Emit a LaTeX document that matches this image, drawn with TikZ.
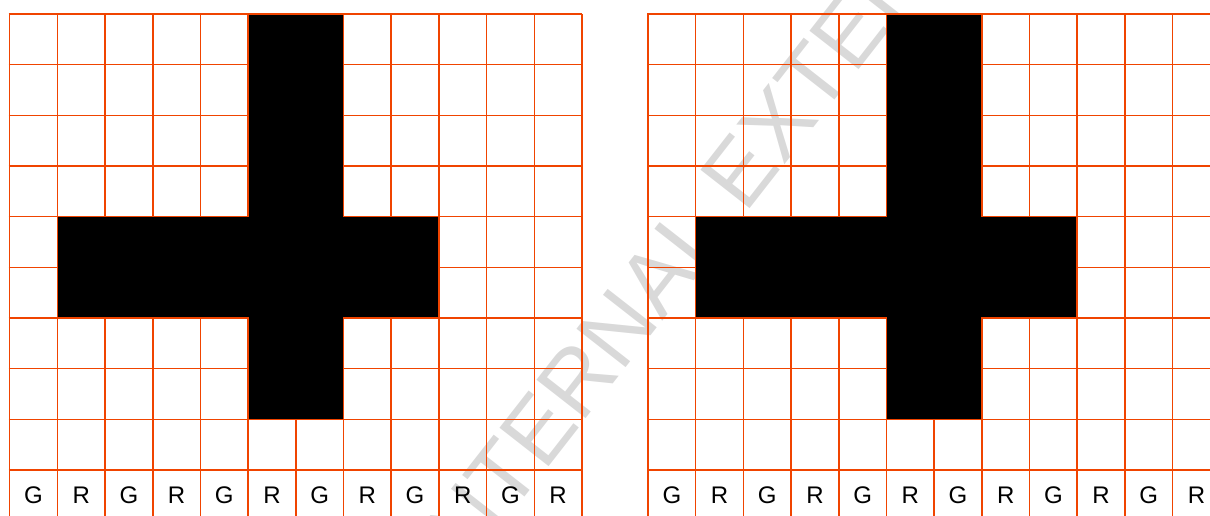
\documentclass[tikz,border=0pt]{standalone}
\usepackage{fontspec}
\setmainfont{Liberation Sans}
\definecolor{gridorange}{RGB}{240,68,0}
\definecolor{wmgray}{RGB}{217,217,217}
\begin{document}
\begin{tikzpicture}[x=0.75pt,y=-0.75pt,
  gridline/.style={draw=gridorange,line width=1.1pt},
  crossshape/.style={fill=black,draw=gridorange,line width=1.1pt,line join=miter},
  celllabel/.style={font=\fontsize{18}{20}\selectfont,text=black,inner sep=0pt},
  watermark/.style={font=\fontsize{68}{72}\selectfont,text=wmgray,rotate=52,inner sep=0pt}]
\useasboundingbox (0,0) rectangle (1210,515);
\clip (0,0) rectangle (1210,515);
\node[watermark] (wm) at (723,193) {INTERNAL EXTERNAL};
\foreach \gx/\gn in {9.7/L,648/R}{
  \begin{scope}[shift={(\gx,14)}]
    \foreach \i in {0,...,12}
      \draw[gridline] (\i*47.69,0) -- (\i*47.69,520);
    \foreach \j in {0,...,10}
      \draw[gridline] (-1,\j*50.67) -- (572.3,\j*50.67);
    \draw[crossshape] (5*47.69,0) -- (7*47.69,0) -- (7*47.69,4*50.67)
      -- (9*47.69,4*50.67) -- (9*47.69,6*50.67) -- (7*47.69,6*50.67)
      -- (7*47.69,8*50.67) -- (5*47.69,8*50.67) -- (5*47.69,6*50.67)
      -- (1*47.69,6*50.67) -- (1*47.69,4*50.67) -- (5*47.69,4*50.67) -- cycle;
    \foreach \i/\t in {0/G,1/R,2/G,3/R,4/G,5/R,6/G,7/R,8/G,9/R,10/G,11/R}
      \node[celllabel] (lbl\gn\i) at ({(\i+0.5)*47.69},{9.5*50.67}) {\t};
  \end{scope}
}
\end{tikzpicture}
\end{document}
